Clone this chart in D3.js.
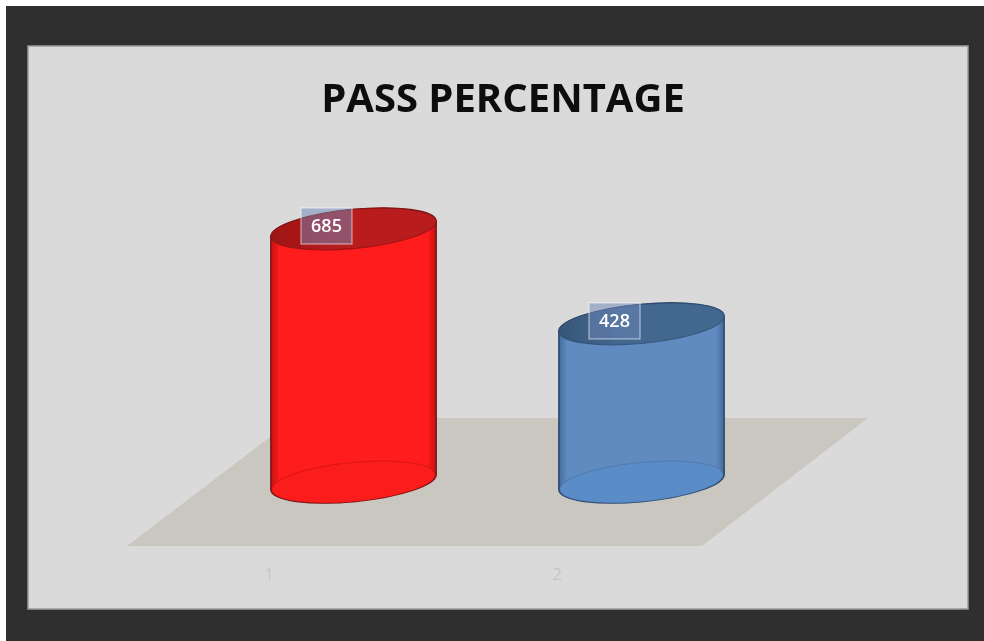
<!DOCTYPE html>
<html>
<head>
<meta charset="utf-8">
<title>Pass Percentage</title>
<script src="https://cdn.jsdelivr.net/npm/d3@7"></script>
<style>
    html, body { margin: 0; padding: 0; background: #ffffff; }
    svg { display: block; }
</style>
</head>
<body>
<div id="graph"></div>
<script>
// The data...
var categories = [ '1', '2' ];
var values     = [ 685, 428 ];
var chartTitle = 'PASS PERCENTAGE';

// Colours, one per bar
var sideMid   = [ '#fe1a1a', '#5f8bc1' ];
var sideEdge  = [ '#c01515', '#456a99' ];
var topFill   = [ '#b81a1a', '#43678f' ];
var topEdge   = [ '#9c1818', '#375678' ];
var baseFill  = [ '#fb1c1c', '#5a8cc8' ];
var lineColor = [ '#7d1414', '#2f4a6e' ];

var width  = 984;
var height = 641;

// Size of the elliptical ends, and their tilt
var rx   = 83;
var ry   = 19.5;
var tilt = -5.5;
var tiltRad = tilt * Math.PI / 180;

var svg = d3.select ('#graph').append ('svg')
            .attr ('width', width)
            .attr ('height', height);

var defs = svg.append ('defs');

defs.append ('filter')
    .attr ('id', 'soft')
    .append ('feGaussianBlur')
    .attr ('stdDeviation', 0.7);

defs.append ('filter')
    .attr ('id', 'softText')
    .append ('feGaussianBlur')
    .attr ('stdDeviation', 0.35);

categories.forEach (function (c, i)
{
    var grad = defs.append ('linearGradient')
                   .attr ('id', 'side_' + i)
                   .attr ('x1', 0).attr ('x2', 1)
                   .attr ('y1', 0).attr ('y2', 0);

    grad.append ('stop').attr ('offset', '0%').attr ('stop-color', sideEdge[i]);
    grad.append ('stop').attr ('offset', '5%').attr ('stop-color', sideMid[i]);
    grad.append ('stop').attr ('offset', '95%').attr ('stop-color', sideMid[i]);
    grad.append ('stop').attr ('offset', '100%').attr ('stop-color', sideEdge[i]);

    var gradTop = defs.append ('linearGradient')
                      .attr ('id', 'top_' + i)
                      .attr ('x1', 0).attr ('x2', 1)
                      .attr ('y1', 0).attr ('y2', 0);

    gradTop.append ('stop').attr ('offset', '0%').attr ('stop-color', topEdge[i]);
    gradTop.append ('stop').attr ('offset', '35%').attr ('stop-color', topFill[i]);
    gradTop.append ('stop').attr ('offset', '100%').attr ('stop-color', topFill[i]);
});

// Page frame: the dark surround and the grey panel
svg.append ('rect')
   .attr ('x', 6).attr ('y', 6)
   .attr ('width', width - 6).attr ('height', height - 6)
   .attr ('fill', '#2f2f2f');

svg.append ('rect')
   .attr ('x', 28).attr ('y', 46)
   .attr ('width', 940).attr ('height', 563)
   .attr ('fill', '#dadada')
   .attr ('stroke', '#9a9a9a')
   .attr ('stroke-width', 1.5)
   .attr ('filter', 'url(#softText)');

// Define the scales to convert our data to screen coordinates
var xScale = d3.scalePoint ()
               .domain (categories)
               .range ([ 353.5, 641.5 ]);

var yScale = d3.scaleLinear ()
               .domain ([ 0, 685 ])
               .range ([ 482, 229 ]);

// The floor
svg.append ('path')
   .attr ('d', d3.line () ([ [ 127, 546 ], [ 702, 546 ], [ 868, 418 ], [ 295, 418 ] ]) + 'Z')
   .attr ('fill', '#c9c7c0')
   .attr ('filter', 'url(#soft)');

// Category labels sit under the left edge of each cylinder
var xAxis = d3.axisBottom (xScale).tickSize (0);

var axisG = svg.append ('g')
               .attr ('transform', 'translate(-85,565)')
               .call (xAxis);

axisG.select ('.domain').remove ();

axisG.selectAll ('text')
     .attr ('font-family', 'Open Sans')
     .attr ('font-size', '17px')
     .attr ('fill', '#c6c6c6');

// Offset of the ellipse's ends from its centre
var ex = rx * Math.cos (tiltRad);
var ey = rx * Math.sin (tiltRad);

function bodyPath (cx, yTop, yBase)
{
    return 'M' + (cx - ex) + ',' + (yTop - ey)
         + 'A' + rx + ',' + ry + ' ' + tilt + ' 0 1 ' + (cx + ex) + ',' + (yTop + ey)
         + 'L' + (cx + ex) + ',' + (yBase + ey)
         + 'A' + rx + ',' + ry + ' ' + tilt + ' 0 1 ' + (cx - ex) + ',' + (yBase - ey)
         + 'Z';
}

var bars = svg.selectAll ('.bar')
              .data (values)
              .enter ()
              .append ('g')
              .attr ('class', 'bar')
              .attr ('filter', 'url(#soft)');

// Base ellipse first, then the body over it
bars.append ('path')
    .attr ('d', function (d, i) { return bodyPath (xScale (categories[i]), yScale (d), yScale (0)); })
    .attr ('fill', function (d, i) { return 'url(#side_' + i + ')'; })
    .attr ('stroke', function (d, i) { return lineColor[i]; })
    .attr ('stroke-width', 1.6);

bars.append ('ellipse')
    .attr ('rx', rx - 1)
    .attr ('ry', ry)
    .attr ('transform', function (d, i)
    {
        return 'translate(' + xScale (categories[i]) + ',' + yScale (0) + ') rotate(' + tilt + ')';
    })
    .attr ('fill', function (d, i) { return baseFill[i]; })
    .attr ('stroke', function (d, i) { return lineColor[i]; })
    .attr ('stroke-opacity', 0.25)
    .attr ('stroke-width', 1);

bars.append ('ellipse')
    .attr ('rx', rx)
    .attr ('ry', ry)
    .attr ('transform', function (d, i)
    {
        return 'translate(' + xScale (categories[i]) + ',' + yScale (d) + ') rotate(' + tilt + ')';
    })
    .attr ('fill', function (d, i) { return 'url(#top_' + i + ')'; })
    .attr ('stroke', function (d, i) { return lineColor[i]; })
    .attr ('stroke-opacity', 0.7)
    .attr ('stroke-width', 1);

// Value labels in their small boxes
var boxW = 51;
var boxH = 36;

svg.selectAll ('.valBox')
   .data (values)
   .enter ()
   .append ('rect')
   .attr ('class', 'valBox')
   .attr ('x', function (d, i) { return xScale (categories[i]) - 52.5; })
   .attr ('y', function (d) { return yScale (d) - 21; })
   .attr ('width', boxW)
   .attr ('height', boxH)
   .attr ('fill', '#6d86b8')
   .attr ('fill-opacity', 0.5)
   .attr ('stroke', '#ffffff')
   .attr ('stroke-opacity', 0.55)
   .attr ('stroke-width', 1.2);

svg.selectAll ('.valLabel')
   .data (values)
   .enter ()
   .append ('text')
   .attr ('class', 'valLabel')
   .attr ('x', function (d, i) { return xScale (categories[i]) - 27; })
   .attr ('y', function (d) { return yScale (d) + 3; })
   .attr ('text-anchor', 'middle')
   .attr ('font-family', 'Open Sans')
   .attr ('font-size', '18px')
   .attr ('font-weight', 600)
   .attr ('fill', '#ffffff')
   .attr ('filter', 'url(#softText)')
   .text (function (d) { return d; });

// Title
svg.append ('text')
   .attr ('x', 503)
   .attr ('y', 112)
   .attr ('text-anchor', 'middle')
   .attr ('font-family', 'Open Sans')
   .attr ('font-size', '40px')
   .attr ('font-weight', 700)
   .attr ('fill', '#0a0a0a')
   .attr ('filter', 'url(#softText)')
   .text (chartTitle);
</script>
</body>
</html>
